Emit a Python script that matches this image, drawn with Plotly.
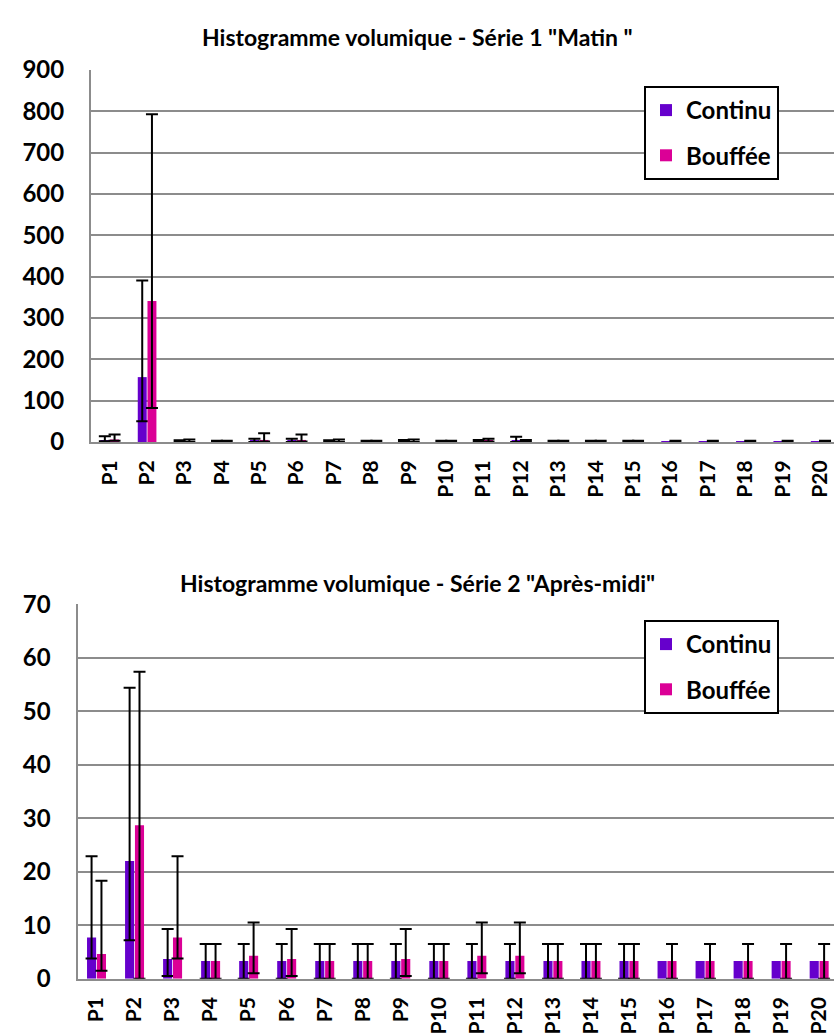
import plotly.graph_objects as go

categories = [f"P{i}" for i in range(1, 21)]

# Série 1 "Matin"
cont1 = [4, 157, 1, 1, 3, 3, 1.5, 1, 2, 1, 2, 3, 1, 1, 1, 1, 1, 1, 1, 1]
cont1_hi = [14, 391, 4, 3, 8, 8, 4, 3, 5, 3, 5, 13, 3, 3, 3, None, None, None, None, None]
cont1_lo = [2, 50, 0, 0, 0, 0, 0, 0, 0, 0, 0, 0, 0, 0, 0, None, None, None, None, None]
bouf1 = [6, 341, 2, 1, 5, 5, 2, 1, 2, 1, 3, 2, 1, 1, 1, 1, 1, 1, 1, 1]
bouf1_hi = [18, 793, 6, 3, 21, 18, 6, 3, 6, 3, 8, 5, 3, 3, 3, 3, 3, 3, 3, 3]
bouf1_lo = [3, 82, 0, 0, 1, 1, 0, 0, 0, 0, 1, 0, 0, 0, 0, 0, 0, 0, 0, 0]

# Série 2 "Après-midi"
cont2 = [7.7, 22.0, 3.7, 3.3, 3.3, 3.3, 3.3, 3.3, 3.3, 3.3, 3.3, 3.3, 3.3, 3.3, 3.3, 3.3, 3.3, 3.3, 3.3, 3.3]
cont2_hi = [22.9, 54.4, 9.3, 6.5, 6.5, 6.5, 6.5, 6.5, 6.5, 6.5, 6.5, 6.5, 6.5, 6.5, 6.5, None, None, None, None, None]
cont2_lo = [3.8, 7.2, 0.5, 0, 0, 0, 0, 0, 0, 0, 0, 0, 0, 0, 0, None, None, None, None, None]
bouf2 = [4.6, 28.7, 7.7, 3.3, 4.3, 3.7, 3.3, 3.3, 3.7, 3.3, 4.3, 4.3, 3.3, 3.3, 3.3, 3.3, 3.3, 3.3, 3.3, 3.3]
bouf2_hi = [18.3, 57.4, 22.9, 6.5, 10.5, 9.3, 6.5, 6.5, 9.3, 6.5, 10.5, 10.5, 6.5, 6.5, 6.5, 6.5, 6.5, 6.5, 6.5, 6.5]
bouf2_lo = [1.5, 0, 3.8, 0, 1.0, 0.5, 0, 0, 0.5, 0, 1.0, 1.0, 0, 0, 0, 0, 0, 0, 0, 0]

titles = ['Histogramme volumique - Série 1 "Matin "',
          'Histogramme volumique - Série 2 "Après-midi"']
series_names = ["Continu", "Bouffée"]
colors = ["#6600CC", "#DB0096"]

FONT = "Lato"
GRID = "#8c8c8c"

fig = go.Figure()


def add_series(vals, hi, lo, name, color, group, xa, ya, legend, showlegend=True):
    with_err = [i for i in range(len(vals)) if hi[i] is not None]
    no_err = [i for i in range(len(vals)) if hi[i] is None]
    fig.add_trace(go.Bar(
        x=[categories[i] for i in with_err], y=[vals[i] for i in with_err],
        name=name, marker=dict(color=color, line=dict(width=0)),
        offsetgroup=group, legendgroup=name + legend, showlegend=showlegend,
        xaxis=xa, yaxis=ya, legend=legend,
        error_y=dict(type="data", symmetric=False,
                     array=[hi[i] - vals[i] for i in with_err],
                     arrayminus=[vals[i] - lo[i] for i in with_err],
                     color="black", thickness=2, width=6),
    ))
    if no_err:
        fig.add_trace(go.Bar(
            x=[categories[i] for i in no_err], y=[vals[i] for i in no_err],
            name=name, marker=dict(color=color, line=dict(width=0)),
            offsetgroup=group, legendgroup=name + legend, showlegend=False,
            xaxis=xa, yaxis=ya, legend=legend,
        ))


add_series(cont1, cont1_hi, cont1_lo, series_names[0], colors[0], "c", "x", "y", "legend")
add_series(bouf1, bouf1_hi, bouf1_lo, series_names[1], colors[1], "b", "x", "y", "legend")
add_series(cont2, cont2_hi, cont2_lo, series_names[0], colors[0], "c", "x2", "y2", "legend2")
add_series(bouf2, bouf2_hi, bouf2_lo, series_names[1], colors[1], "b", "x2", "y2", "legend2")

H = 1036.0
W = 834.0

xcommon = dict(type="category", categoryorder="array", categoryarray=categories,
               tickangle=-90, tickfont=dict(family=FONT, size=21, color="black", weight="bold"),
               showline=True, linecolor=GRID, linewidth=2, showgrid=False, ticks="",
               ticklabelstandoff=8, automargin=False)
ycommon = dict(showgrid=True, gridcolor=GRID, gridwidth=2,
               showline=True, linecolor=GRID, linewidth=2, zeroline=False,
               tickfont=dict(family=FONT, size=24, color="black", weight="bold"),
               ticks="", ticklabelstandoff=20, automargin=False)

legcommon = dict(bgcolor="white", bordercolor="black", borderwidth=2,
                 font=dict(family=FONT, size=24, color="black", weight="bold"),
                 xanchor="left", yanchor="top", tracegroupgap=11, traceorder="grouped",
                 itemwidth=30)

fig.update_layout(
    width=834, height=1036,
    margin=dict(l=0, r=0, t=0, b=0, autoexpand=False),
    paper_bgcolor="white", plot_bgcolor="white",
    barmode="group", bargap=0.48, bargroupgap=0.08,
    font=dict(family=FONT, color="black"),
    xaxis=dict(xcommon, domain=[91 / W, 1], anchor="y", range=[-0.5, 19.37]),
    yaxis=dict(ycommon, domain=[1 - 442 / H, 1 - 70 / H], anchor="x", range=[0, 900], dtick=100),
    xaxis2=dict(xcommon, domain=[77.5 / W, 1], anchor="y2", range=[-0.5, 19.39]),
    yaxis2=dict(ycommon, domain=[1 - 978.7 / H, 1 - 604.3 / H], anchor="x2", range=[0, 70], dtick=10),
    legend=dict(legcommon, x=644 / W, y=1 - 86 / H),
    legend2=dict(legcommon, x=644 / W, y=1 - 620 / H),
    showlegend=True,
    annotations=[
        dict(text=titles[0], x=0.5, y=1 - 37 / H, xref="paper", yref="paper",
             xanchor="center", yanchor="middle",
             showarrow=False, font=dict(family=FONT, size=23, color="black", weight="bold")),
        dict(text=titles[1], x=0.5, y=1 - 583 / H, xref="paper", yref="paper",
             xanchor="center", yanchor="middle",
             showarrow=False, font=dict(family=FONT, size=23, color="black", weight="bold")),
    ],
)

fig.write_html("out.html")
